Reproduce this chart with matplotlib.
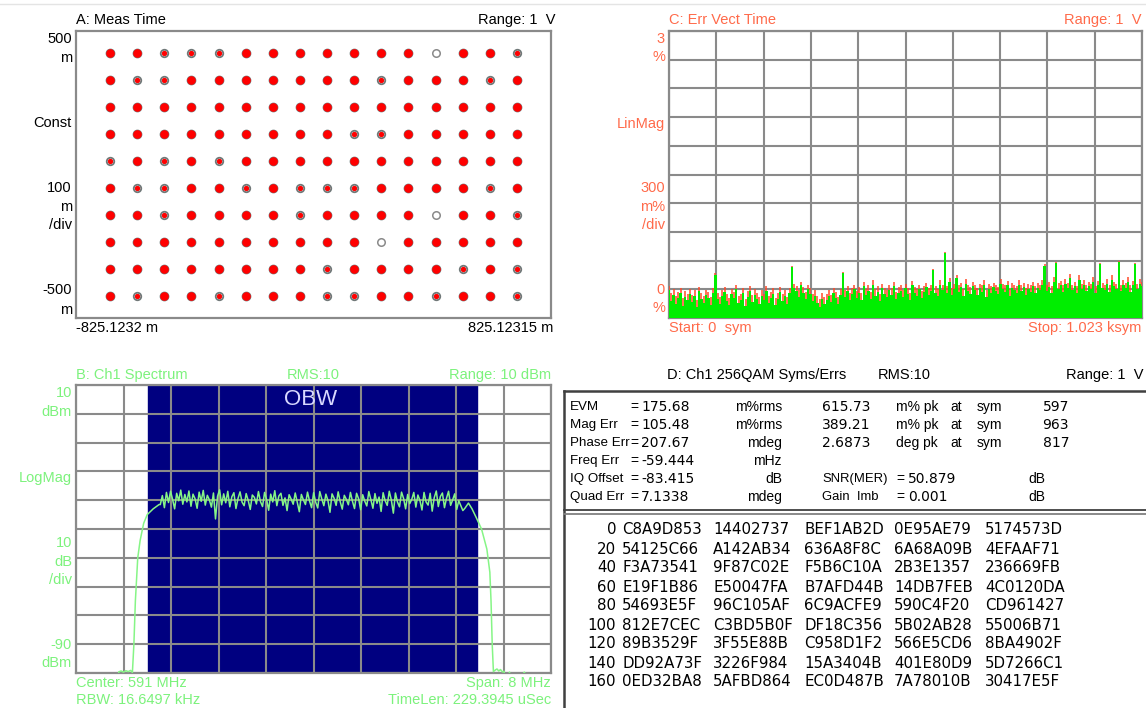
import numpy as np
import matplotlib
matplotlib.use("Agg")
import matplotlib.pyplot as plt
from matplotlib.patches import Rectangle
from matplotlib.lines import Line2D

plt.rcParams['font.family'] = ['Liberation Sans', 'DejaVu Sans']

# ---------------- data ----------------
# Panel A: constellation (I/Q levels in "m" units)
i_levels = [-707.1, -612.8, -518.5, -424.3, -330.0, -235.7, -141.4, -47.1,
            47.1, 141.4, 235.7, 330.0, 424.3, 518.5, 612.8, 707.1]
q_levels = [424.3, 330.0, 235.7, 141.4, 47.1, -47.1, -141.4, -235.7, -330.0, -424.3]
# f = filled red, r = ring with small red centre, h = hollow grey ring
point_style = [
    "ffrrrfffffffhffr",
    "frrfffffffrfffrf",
    "ffffffffffffffff",
    "fffffffffrrfffff",
    "rfrfrfffffffffff",
    "frrffrfrrrffffrf",
    "ffrffffrffffhffr",
    "ffffffffffhfffff",
    "ffffffffrffffrfr",
    "frffrfffrrffrffr",
]

# Panel C: error vector magnitude vs symbol (m%), body and peak traces
evm_vals = [
    290, 180, 240, 150, 210, 260, 130, 220, 190, 250, 170, 230, 120, 280, 200, 160, 240, 210, 140, 260,
    450, 200, 150, 230, 270, 180, 140, 250, 210, 300, 160, 190, 260, 130, 220, 280, 170, 240, 200, 150,
    230, 190, 280, 160, 210, 250, 140, 200, 270, 180, 230, 150, 260, 530, 310, 280, 220, 340, 260, 200,
    300, 250, 180, 230, 160, 120, 200, 150, 190, 230, 170, 260, 210, 150, 240, 470, 220, 280, 190, 250,
    300, 210, 260, 190, 330, 240, 280, 200, 350, 230, 270, 180, 310, 250, 220, 290, 240, 330, 200, 260,
    280, 220, 310, 250, 190, 340, 260, 230, 300, 210, 270, 320, 240, 280, 500, 260, 230, 350, 290, 680,
    260, 380, 240, 300, 420, 270, 320, 230, 360, 280, 250, 330, 290, 240, 310, 270, 350, 220, 300, 260,
    320, 280, 250, 360, 300, 270, 340, 230, 310, 290, 260, 350, 280, 320, 240, 300, 270, 330, 260, 310,
    290, 350, 545, 280, 320, 260, 380, 575, 300, 340, 270, 360, 310, 420, 290, 330, 260, 400, 300, 350,
    280, 330, 300, 380, 260, 340, 560, 310, 290, 360, 270, 400, 330, 300, 590, 280, 350, 310, 380, 270,
    340, 560, 300, 360, 330,
]
evm_peak = [
    330, 260, 300, 230, 270, 310, 210, 280, 250, 300, 240, 290, 190, 320, 260, 230, 290, 270, 220, 310,
    470, 260, 220, 290, 320, 250, 210, 300, 270, 340, 230, 250, 310, 200, 280, 330, 240, 300, 260, 220,
    290, 250, 330, 230, 270, 310, 210, 260, 320, 250, 290, 220, 310, 540, 360, 330, 290, 380, 320, 270,
    350, 310, 250, 290, 230, 200, 260, 220, 250, 290, 240, 310, 270, 220, 300, 480, 290, 330, 260, 310,
    350, 280, 320, 260, 380, 300, 340, 270, 400, 300, 330, 250, 360, 310, 290, 350, 310, 380, 270, 320,
    340, 290, 360, 310, 260, 390, 320, 300, 350, 280, 330, 370, 310, 340, 510, 330, 300, 400, 350, 690,
    330, 420, 310, 360, 450, 340, 370, 300, 410, 340, 320, 380, 350, 310, 360, 340, 400, 290, 360, 330,
    370, 340, 320, 410, 360, 340, 390, 300, 370, 350, 330, 400, 350, 370, 310, 360, 340, 380, 330, 370,
    350, 400, 560, 350, 380, 330, 430, 590, 370, 390, 340, 410, 370, 460, 350, 380, 330, 450, 360, 400,
    350, 380, 360, 430, 330, 390, 575, 370, 350, 410, 340, 450, 380, 360, 600, 350, 400, 370, 430, 340,
    390, 575, 360, 410, 380,
]
sym_start, sym_stop = 0, 1023

# Panel B: spectrum (MHz, dBm)
f_center, f_span = 591.0, 8.0
obw_lo, obw_hi = 588.22, 593.76
edge_lo_f = [587.00, 587.70, 587.72, 587.76, 587.80, 587.84, 587.88, 587.92, 587.95, 587.975,
             588.00, 588.04, 588.08, 588.14, 588.20, 588.30, 588.40]
edge_lo_db = [-95.0, -95.0, -89.6, -89.3, -89.7, -89.2, -89.5, -89.1, -89.8, -80.0,
              -65.0, -50.0, -44.0, -38.0, -35.0, -33.0, -31.5]
plateau_lo, plateau_hi = 588.42, 593.55
plateau_db = [
    -31.5, -28.4, -32.6, -27.3, -30.8, -26.9, -29.7, -33.0, -27.6, -30.2, -26.5, -31.4, -28.0, -30.6, -26.8, -32.1, -27.9, -29.5, -32.8, -27.2, -30.4, -26.6, -31.7, -28.3, -29.9,
    -32.4, -27.5, -36.5, -28.6, -26.4, -31.6, -27.8, -30.9, -26.9, -32.3, -28.8, -27.4, -32.9, -29.4, -27.1, -30.7, -31.9, -27.7, -30.1, -33.2, -28.2, -29.0, -31.3, -27.0, -30.5,
    -32.2, -27.3, -29.8, -33.5, -27.9, -30.6, -26.7, -31.9, -28.5, -27.6, -31.8, -29.2, -33.6, -28.1, -29.6, -31.4, -27.5, -30.8, -34.0, -28.0, -29.9, -31.5, -27.2, -30.3, -32.6,
    -27.4, -30.7, -32.7, -27.0, -29.6, -31.9, -27.9, -30.1, -34.2, -27.8, -29.3, -31.8, -27.1, -30.5, -33.1, -28.3, -29.7, -31.6, -27.3, -30.4, -32.9, -27.6, -29.5, -33.3, -28.1,
    -30.3, -32.0, -27.0, -29.8, -32.8, -27.7, -31.1, -28.9, -33.9, -27.4, -30.2, -31.8, -26.9, -29.9, -34.5, -27.5, -30.6, -32.3, -27.2, -29.4, -33.0, -28.0, -31.2, -29.7, -27.3,
    -32.4, -28.2, -30.1, -33.4, -27.3, -30.6, -31.7, -27.6, -33.8, -29.1, -26.8, -32.2, -28.7, -27.5, -32.6, -29.3, -26.9, -31.8, -29.9, -27.8, -33.2, -30.2, -31.9, -33.6, -32.8,
]
edge_hi_f = [593.61, 593.67, 593.74, 593.83, 593.92, 593.97, 593.99, 594.01, 594.03, 594.06,
             594.09, 594.12, 594.15, 594.18, 594.21, 594.24, 594.30, 594.40, 594.55, 594.70, 595.0]
edge_hi_db = [-31.0, -33.0, -36.0, -40.0, -47.0, -55.0, -65.0, -80.0, -89.5, -89.0,
              -88.6, -89.3, -88.8, -89.6, -89.4, -95.0, -89.7, -95.0, -89.7, -95.0, -95.0]

# Panel D: measurement table
stat_labels = ["EVM", "Mag Err", "Phase Err", "Freq Err", "IQ Offset", "Quad Err"]
stat_values = ["175.68", "105.48", "207.67", "-59.444", "-83.415", "7.1338"]
stat_units = ["m%rms", "m%rms", "mdeg", "mHz", "dB", "mdeg"]
peak_values = ["615.73", "389.21", "2.6873"]
peak_units = ["m% pk", "m% pk", "deg pk"]
peak_syms = ["597", "963", "817"]
extra_labels = ["SNR(MER)", "Gain  Imb"]
extra_values = ["50.879", "0.001"]
hex_offsets = ["0", "20", "40", "60", "80", "100", "120", "140", "160"]
hex_rows = [
    ["C8A9D853", "14402737", "BEF1AB2D", "0E95AE79", "5174573D"],
    ["54125C66", "A142AB34", "636A8F8C", "6A68A09B", "4EFAAF71"],
    ["F3A73541", "9F87C02E", "F5B6C10A", "2B3E1357", "236669FB"],
    ["E19F1B86", "E50047FA", "B7AFD44B", "14DB7FEB", "4C0120DA"],
    ["54693E5F", "96C105AF", "6C9ACFE9", "590C4F20", "CD961427"],
    ["812E7CEC", "C3BD5B0F", "DF18C356", "5B02AB28", "55006B71"],
    ["89B3529F", "3F55E88B", "C958D1F2", "566E5CD6", "8BA4902F"],
    ["DD92A73F", "3226F984", "15A3404B", "401E80D9", "5D7266C1"],
    ["0ED32BA8", "5AFBD864", "EC0D487B", "7A78010B", "30417E5F"],
]

# ---------------- layout helpers ----------------
W, H = 1146, 708
fig = plt.figure(figsize=(W / 100, H / 100), dpi=100)
fig.patch.set_facecolor("white")
FS = 10.5
NUMF = ["DejaVu Sans"]


def ax_px(l, t, r, b):
    return fig.add_axes([l / W, 1 - b / H, (r - l) / W, (b - t) / H])


def txt(x, y, s, ha="left", va="center", color="black", size=FS, **kw):
    fig.text(x / W, 1 - y / H, s, ha=ha, va=va, color=color, fontsize=size, **kw)


GRID = "#8a8a8a"
GREEN_T = "#7cf27c"
RED_T = "#ff6a4a"

fig.add_artist(Line2D([0, 1], [1 - 4 / H, 1 - 4 / H], color="#e4e4e4", lw=1))

# ---------------- Panel A ----------------
axA = ax_px(76, 31, 551, 318)
axA.set_xlim(-825.1232, 825.12315)
axA.set_ylim(-500, 500)
axA.set_xticks([]); axA.set_yticks([])
for s in axA.spines.values():
    s.set_color("#8a8a8a"); s.set_linewidth(1.6)
for r, q in enumerate(q_levels):
    for c, i in enumerate(i_levels):
        st = point_style[r][c]
        if st == "f":
            axA.plot(i, q, "o", ms=6.0, mfc="#6f7f7f", mec="#6f7f7f", zorder=2)
            axA.plot(i, q, "o", ms=5.2, mfc="#ff0000", mec="#ff0000", zorder=3)
        elif st == "r":
            axA.plot(i, q, "o", ms=5.4, mfc="white", mec="#707878", mew=1.3, zorder=2)
            axA.plot(i, q, "o", ms=2.8, mfc="#ff0000", mec="#ff0000", zorder=3)
        else:
            axA.plot(i, q, "o", ms=5.4, mfc="white", mec="#8a8a8a", mew=1.1, zorder=2)

txt(76, 20, "A: Meas Time")
txt(556, 20, "Range: 1  V", ha="right")
for y, s in [(39, "500"), (58, "m"), (123, "Const"), (188, "100"), (207, "m"),
             (225, "/div"), (290, "-500"), (310, "m")]:
    txt(72, y, s, ha="right")
txt(76, 328, "-825.1232 m")
txt(553, 328, "825.12315 m", ha="right")

# ---------------- Panel C ----------------
axC = ax_px(669, 31, 1142, 318)
axC.set_xlim(sym_start, sym_stop)
axC.set_ylim(0, 3)
axC.set_xticks(np.linspace(sym_start, sym_stop, 11))
axC.set_yticks(np.linspace(0, 3, 11))
axC.tick_params(length=0, labelbottom=False, labelleft=False)
axC.grid(True, color=GRID, lw=1.5)
for s in axC.spines.values():
    s.set_color(GRID); s.set_linewidth(1.6)
xs = np.linspace(sym_start, sym_stop, len(evm_vals))
axC.vlines(xs, 0, np.array(evm_peak) / 1000.0, color="#ff4a2a", lw=1.1, zorder=3)
axC.fill_between(xs, 0, np.array(evm_vals) / 1000.0, step="mid", color="#00ee00", lw=0, zorder=4)
txt(669, 20, "C: Err Vect Time", color=RED_T)
txt(1141, 20, "Range: 1  V", ha="right", color=RED_T)
for y, s in [(39, "3"), (57, "%"), (124, "LinMag"), (188, "300"), (207, "m%"),
             (225, "/div"), (290, "0"), (308, "%")]:
    txt(665, y, s, ha="right", color=RED_T)
txt(669, 328, "Start: 0  sym", color=RED_T)
txt(1141, 328, "Stop: 1.023 ksym", ha="right", color=RED_T)

# ---------------- Panel B ----------------
axB = ax_px(76, 385, 551, 673)
axB.set_xlim(f_center - f_span / 2, f_center + f_span / 2)
axB.set_ylim(-90, 10)
axB.set_xticks(np.linspace(f_center - f_span / 2, f_center + f_span / 2, 11))
axB.set_yticks(np.linspace(-90, 10, 11))
axB.tick_params(length=0, labelbottom=False, labelleft=False)
axB.add_patch(Rectangle((obw_lo, -90), obw_hi - obw_lo, 100, color="#000080", zorder=0.5))
axB.grid(True, color=GRID, lw=1.5, zorder=1)
axB.set_axisbelow(False)
for s in axB.spines.values():
    s.set_color(GRID); s.set_linewidth(1.6)
pf = np.linspace(plateau_lo, plateau_hi, len(plateau_db))
spec_f = np.concatenate([edge_lo_f, pf, edge_hi_f])
spec_db = np.concatenate([edge_lo_db, plateau_db, edge_hi_db])
axB.plot(spec_f, spec_db, color="#86f586", lw=1.1, zorder=3)
axB.text(f_center - 0.05, 5.0, "OBW", ha="center", va="center", color="#d8d8ff", fontsize=16, zorder=4)
txt(76, 375, "B: Ch1 Spectrum", color=GREEN_T)
txt(313, 375, "RMS:10", ha="center", color=GREEN_T)
txt(551, 375, "Range: 10 dBm", ha="right", color=GREEN_T)
for y, s in [(393, "10"), (412, "dBm"), (478, "LogMag"), (543, "10"), (562, "dB"),
             (580, "/div"), (645, "-90"), (663, "dBm")]:
    txt(72, y, s, ha="right", color=GREEN_T)
txt(76, 683, "Center: 591 MHz", color=GREEN_T)
txt(551, 683, "Span: 8 MHz", ha="right", color=GREEN_T)
txt(76, 700, "RBW: 16.6497 kHz", color=GREEN_T)
txt(551, 700, "TimeLen: 229.3945 uSec", ha="right", color=GREEN_T)

# ---------------- Panel D ----------------
txt(667, 375, "D: Ch1 256QAM Syms/Errs")
txt(878, 375, "RMS:10")
txt(1143, 375, "Range: 1  V", ha="right")
axD = ax_px(564, 391, 1160, 720)
axD.set_xlim(0, 1); axD.set_ylim(0, 1); axD.set_xticks([]); axD.set_yticks([])
for k in ("right", "bottom"):
    axD.spines[k].set_visible(False)
for k in ("left", "top"):
    axD.spines[k].set_color("#404040"); axD.spines[k].set_linewidth(1.8)
fig.add_artist(Line2D([564 / W, 1], [1 - 510 / H] * 2, color="#404040", lw=1.3))
fig.add_artist(Line2D([564 / W, 1], [1 - 514 / H] * 2, color="#808080", lw=1.3))

row_y = [407, 425, 443, 461, 479, 497]
for k, y in enumerate(row_y):
    txt(570, y, stat_labels[k], size=9.6)
    txt(630, y, "=", size=10)
    txt(641, y, stat_values[k], size=10, family=NUMF)
    txt(782, y, stat_units[k], ha="right", size=10)
for k in range(3):
    y = row_y[k]
    txt(822, y, peak_values[k], size=10, family=NUMF)
    txt(938, y, peak_units[k], ha="right", size=10)
    txt(950, y, "at", size=10)
    txt(977, y, "sym", size=10)
    txt(1069, y, peak_syms[k], ha="right", size=10, family=NUMF)
for k in range(2):
    y = row_y[4 + k]
    txt(822, y, extra_labels[k], size=9.4)
    txt(896, y, "=", size=10)
    txt(908, y, extra_values[k], size=10, family=NUMF)
    txt(1028, y, "dB", size=10)

hex_x = [622, 713, 804, 894, 985]
for r, off in enumerate(hex_offsets):
    y = 530 + 19 * r
    txt(616, y, off, ha="right", size=10.8, family=NUMF)
    for c, hx in enumerate(hex_rows[r]):
        txt(hex_x[c], y, hx, size=10.8, family=NUMF)

fig.savefig("out.png", dpi=100)
